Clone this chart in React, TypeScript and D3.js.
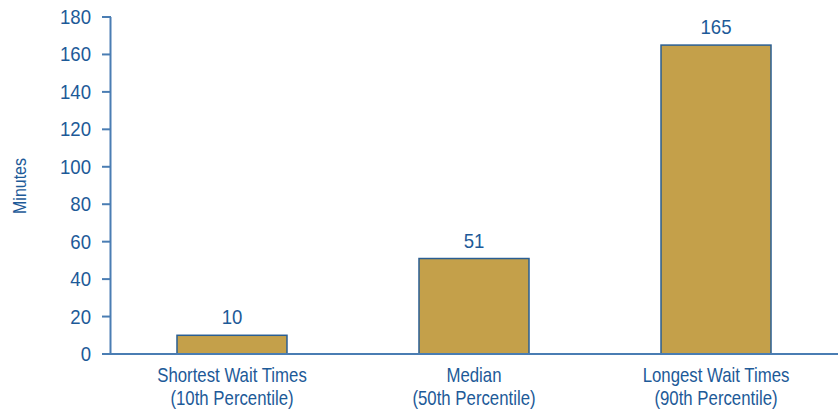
import React from "react";
import * as d3 from "d3";

const categories = ["Shortest Wait Times|(10th Percentile)", "Median|(50th Percentile)", "Longest Wait Times|(90th Percentile)"];
const values = [10, 51, 165];
const yTicks = [0, 20, 40, 60, 80, 100, 120, 140, 160, 180];

const W = 838;
const H = 410;
const margin = { left: 111, right: 1, top: 17, bottom: 56 };
const TEXT = "#1d5a98";
const AXIS = "#4a7db3";
const FONT = "'Liberation Sans', Arial, sans-serif";
// horizontal squeeze giving a condensed look
const NUM_SX = 0.93;
const WORD_SX = 0.84;

function Label({ x, y, sx, anchor, size, children, dy }: any) {
  return (
    <text
      transform={`translate(${x},${y}) scale(${sx},1)`}
      textAnchor={anchor}
      fontSize={size}
      dy={dy}
      fill={TEXT}
    >
      {children}
    </text>
  );
}

export default function App() {
  const x = d3
    .scaleBand<string>()
    .domain(categories)
    .range([margin.left, W - margin.right])
    .paddingInner(0.5455)
    .paddingOuter(0.2727);
  const y = d3.scaleLinear().domain([0, 180]).range([H - margin.bottom, margin.top]);
  const y0 = y(0);

  return (
    <svg width={W} height={H} style={{ position: "absolute", left: 0, top: 0 }} fontFamily={FONT}>
      <rect width={W} height={H} fill="#fff" />
      {/* y axis */}
      <line x1={margin.left - 0.5} x2={margin.left - 0.5} y1={y(180)} y2={y0} stroke={AXIS} strokeWidth={2} />
      {yTicks.map((t) => (
        <g key={t}>
          <line x1={102} x2={margin.left} y1={y(t)} y2={y(t)} stroke={AXIS} strokeWidth={2} />
          <Label x={91} y={y(t)} sx={NUM_SX} anchor="end" size={20} dy="0.35em">
            {t}
          </Label>
        </g>
      ))}
      <text
        transform={`translate(26,186) rotate(-90) scale(${WORD_SX},1)`}
        textAnchor="middle"
        fontSize={19}
        fill={TEXT}
      >
        Minutes
      </text>
      {/* bars */}
      {categories.map((c, i) => {
        const bx = x(c)!;
        const by = y(values[i]);
        const cx = bx + x.bandwidth() / 2;
        return (
          <g key={c}>
            <rect
              x={bx}
              y={by}
              width={x.bandwidth()}
              height={y0 - by}
              fill="#c4a04a"
              stroke="#2a5e92"
              strokeWidth={1.5}
            />
            <Label x={cx} y={by - 11} sx={NUM_SX} anchor="middle" size={20}>
              {values[i]}
            </Label>
            {c.split("|").map((line, j) => (
              <Label key={j} x={cx} y={382 + j * 23} sx={WORD_SX} anchor="middle" size={20}>
                {line}
              </Label>
            ))}
          </g>
        );
      })}
      {/* x axis */}
      <line x1={102} x2={W} y1={y0} y2={y0} stroke={AXIS} strokeWidth={2} />
    </svg>
  );
}
